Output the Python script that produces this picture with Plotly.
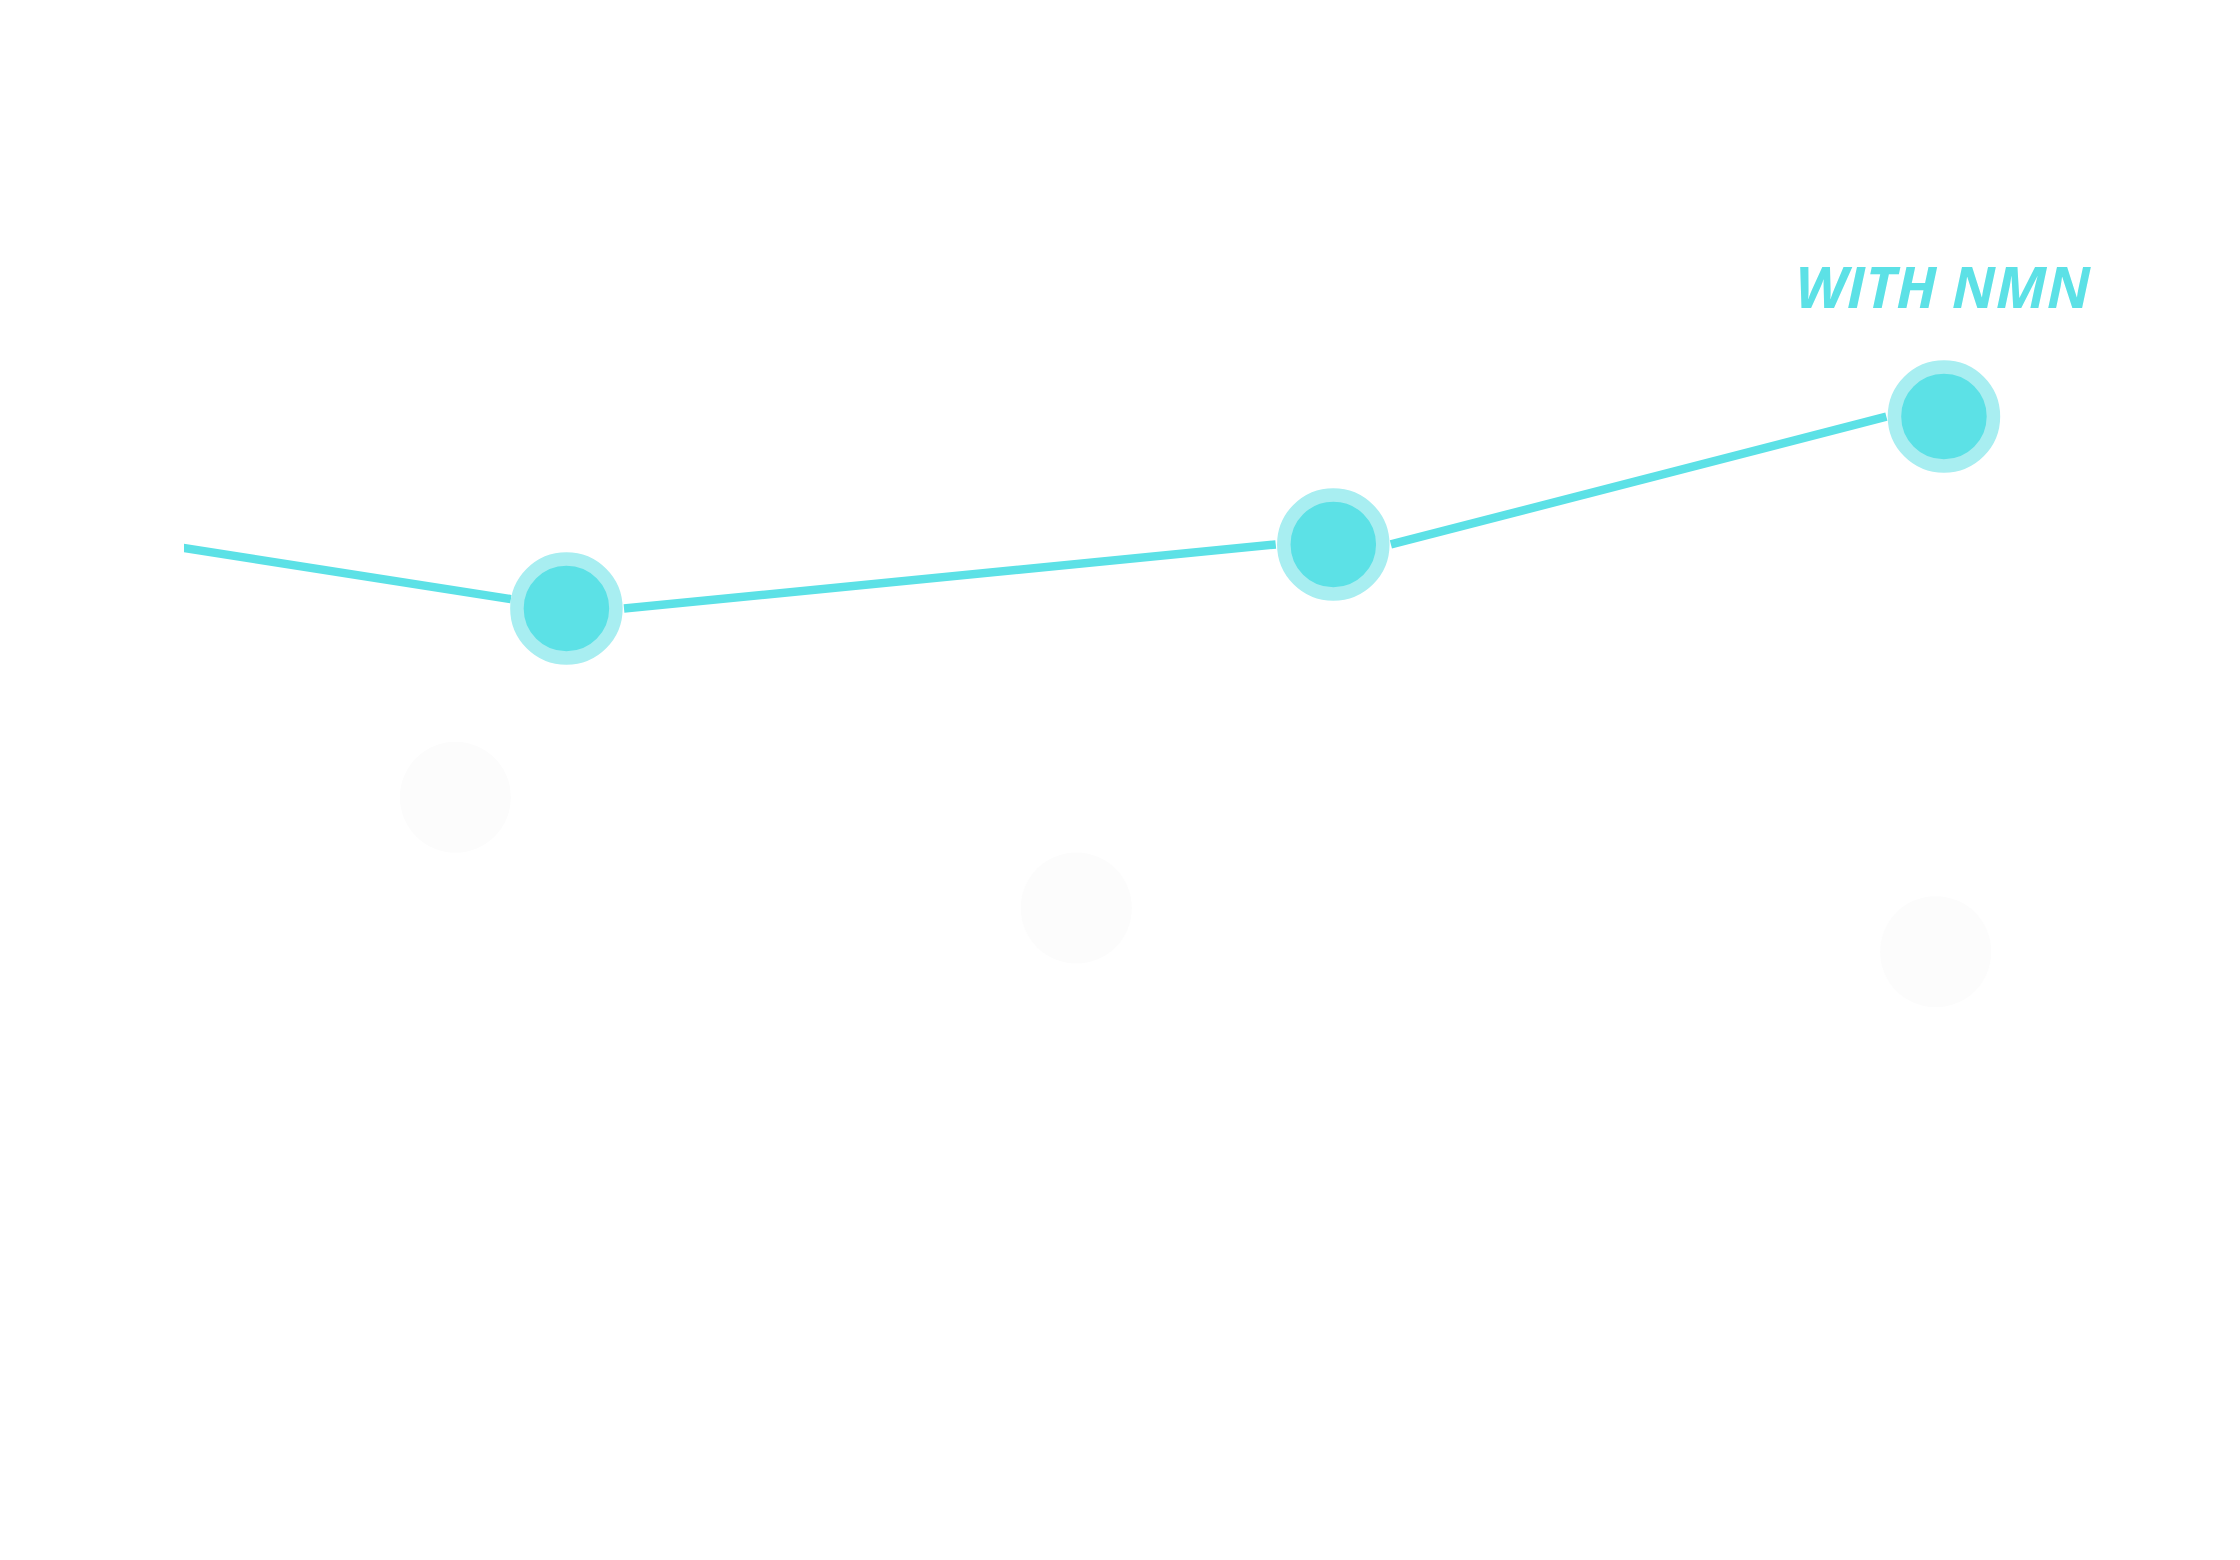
import plotly.graph_objects as go

# Data (arbitrary units)
# Markers of the "with NMN" series
with_x = [18.6, 55.9, 85.6]
with_y = [61.0, 65.1, 73.3]
# Connector segments as drawn in the picture (edge to edge, separated by None)
seg_x = [-5.0, 15.9, None, 21.4, 53.1, None, 58.7, 82.8]
seg_y = [65.9, 61.6, None, 61.0, 65.1, None, 65.1, 73.3]
# Faint "without" series
without_x = [13.2, 43.4, 85.2]
without_y = [48.9, 41.8, 39.0]
label_with = "WITH NMN"

CYAN = "#5ce1e6"
CYAN_LIGHT = "#a8eef1"
GRAY = "#fcfcfc"

fig = go.Figure()

fig.add_trace(go.Scatter(
    x=without_x, y=without_y, mode="markers",
    marker=dict(size=111, color=GRAY, line=dict(width=0)),
    hoverinfo="skip", showlegend=False,
))

fig.add_trace(go.Scatter(
    x=seg_x, y=seg_y, mode="lines", connectgaps=False,
    line=dict(color=CYAN, width=8.5),
    hoverinfo="skip", showlegend=False,
))
fig.add_trace(go.Scatter(
    x=with_x, y=with_y, mode="markers",
    marker=dict(size=99, color=CYAN, line=dict(width=13.5, color=CYAN_LIGHT)),
    hoverinfo="skip", showlegend=False,
))

fig.add_annotation(
    x=with_x[-1], y=81.7, xref="x", yref="y", text=label_with, showarrow=False,
    font=dict(family="Open Sans", size=58, color=CYAN, weight="bold", style="italic"),
    xanchor="center", yanchor="middle",
)

fig.update_xaxes(range=[0, 100], visible=False, showgrid=False, zeroline=False)
fig.update_yaxes(range=[-0.51, 99.49], visible=False, showgrid=False, zeroline=False)
fig.update_layout(
    width=2232, height=1560,
    margin=dict(l=176, r=0, t=0, b=0),
    paper_bgcolor="#ffffff", plot_bgcolor="#ffffff",
)

fig.write_html("out.html")
